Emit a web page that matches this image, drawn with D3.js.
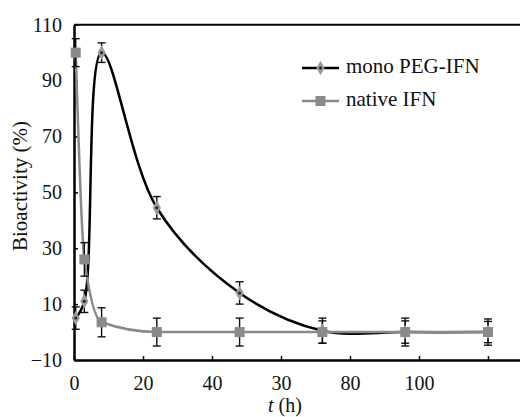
<!DOCTYPE html>
<html>
<head>
<meta charset="utf-8">
<script src="https://cdn.jsdelivr.net/npm/d3@7"></script>
<style>
  body { margin: 0; background: #fff; }
  text { font-family: "Liberation Serif", "DejaVu Serif", serif; }
</style>
</head>
<body>
<div id="chart"></div>
<script>
// data
const times = [0.5, 3, 8, 24, 48, 72, 96, 120];
const pegValues = [5, 11, 100, 44.5, 14, 0.5, 0, 0];
const pegErrors = [4, 4, 3.5, 4, 4, 4.5, 5, 4.7];
const nativeValues = [100, 26, 3.5, 0, 0, 0, 0, 0];
const nativeErrors = [5, 6, 5.2, 5, 5, 4, 4, 3.8];
const seriesNames = ["mono PEG-IFN", "native IFN"];
const yTicks = [-10, 10, 30, 50, 70, 90, 110];
const xTicks = [0, 20, 40, 60, 80, 100, 120];
const xTickLabels = ["0", "20", "40", "30", "80", "100", ""];

const width = 520;
const height = 417;

const svg = d3.select("#chart")
  .append("svg")
  .attr("width", width)
  .attr("height", height);

const x = d3.scaleLinear()
  .domain([0, 130])
  .range([74, 74 + 130 * 3.45]);

const y = d3.scaleLinear()
  .domain([-10, 110])
  .range([360, 24.7]);

const peg = times.map((t, i) => ({ t: t, v: pegValues[i], e: pegErrors[i] }));
const native = times.map((t, i) => ({ t: t, v: nativeValues[i], e: nativeErrors[i] }));

const grey = "#8a8a8a";

// frame top line
svg.append("line")
  .attr("x1", x(0)).attr("x2", width)
  .attr("y1", y(110)).attr("y2", y(110))
  .attr("stroke", "#000").attr("stroke-width", 2);

// Axes
const yAxis = svg.append("g")
  .attr("transform", `translate(${x(0)},0)`)
  .call(d3.axisLeft(y).tickValues(yTicks).tickSizeInner(-4).tickSizeOuter(0).tickPadding(12));

const xAxis = svg.append("g")
  .attr("transform", `translate(0,${y(-10)})`)
  .call(d3.axisBottom(x).tickValues(xTicks).tickFormat((d, i) => xTickLabels[i])
    .tickSizeInner(-4).tickSizeOuter(0).tickPadding(16));

[xAxis, yAxis].forEach(a => {
  a.select(".domain").attr("stroke-width", 2.5);
  a.selectAll(".tick line").attr("stroke-width", 1.5);
  a.selectAll("text").attr("font-size", "20px").attr("fill", "#111")
    .style("font-family", '"Liberation Serif", serif');
});

// Lines
const pegLine = d3.line()
  .x(d => x(d.t))
  .y(d => y(d.v))
  .curve(d3.curveCatmullRom.alpha(0.5));

const nativeLine = d3.line()
  .x(d => x(d.t))
  .y(d => y(d.v))
  .curve(d3.curveMonotoneX);

svg.append("path")
  .datum(peg)
  .attr("d", pegLine)
  .attr("fill", "none")
  .attr("stroke", "#000")
  .attr("stroke-width", 2.5);

svg.append("path")
  .datum(native)
  .attr("d", nativeLine)
  .attr("fill", "none")
  .attr("stroke", grey)
  .attr("stroke-width", 2.5);

// Error bars
function errorBars(data) {
  const g = svg.append("g").attr("stroke", "#111").attr("stroke-width", 1.4);
  data.forEach(d => {
    const cx = x(d.t);
    g.append("line").attr("x1", cx).attr("x2", cx)
      .attr("y1", y(d.v - d.e)).attr("y2", y(d.v + d.e));
    [d.v - d.e, d.v + d.e].forEach(v => {
      g.append("line").attr("x1", cx - 4).attr("x2", cx + 4)
        .attr("y1", y(v)).attr("y2", y(v));
    });
  });
}
errorBars(peg);
errorBars(native);

// Markers
function pegMarker(g, cx, cy) {
  g.append("path")
    .attr("d", d3.symbol(d3.symbolDiamond, 60)())
    .attr("transform", `translate(${cx},${cy})`)
    .attr("fill", "#9a9a9a");
  g.append("circle").attr("cx", cx).attr("cy", cy).attr("r", 1.5).attr("fill", "#222");
}
function nativeMarker(g, cx, cy) {
  g.append("rect")
    .attr("x", cx - 5).attr("y", cy - 5)
    .attr("width", 10).attr("height", 10)
    .attr("fill", grey);
}

const markers = svg.append("g");
peg.forEach(d => pegMarker(markers, x(d.t), y(d.v)));
native.forEach(d => nativeMarker(markers, x(d.t), y(d.v)));

// Legend
const legend = svg.append("g");
legend.append("line").attr("x1", 302).attr("x2", 339).attr("y1", 68).attr("y2", 68)
  .attr("stroke", "#000").attr("stroke-width", 2.5);
pegMarker(legend, 320.5, 68);
legend.append("line").attr("x1", 302).attr("x2", 339).attr("y1", 101).attr("y2", 101)
  .attr("stroke", grey).attr("stroke-width", 2.5);
nativeMarker(legend, 320.5, 101);
legend.selectAll("text.lab")
  .data(seriesNames)
  .enter()
  .append("text")
  .attr("x", 346)
  .attr("y", (d, i) => 73 + i * 32.5)
  .attr("font-size", "21px")
  .attr("fill", "#111")
  .text(d => d);

// Axis titles
svg.append("text")
  .attr("transform", "translate(27,186) rotate(-90)")
  .attr("text-anchor", "middle")
  .attr("font-size", "21px")
  .attr("fill", "#111")
  .text("Bioactivity (%)");

const xt = svg.append("text")
  .attr("x", 285)
  .attr("y", 412)
  .attr("text-anchor", "middle")
  .attr("font-size", "20px")
  .attr("fill", "#111");
xt.append("tspan").attr("font-style", "italic").text("t");
xt.append("tspan").text(" (h)");
</script>
</body>
</html>
